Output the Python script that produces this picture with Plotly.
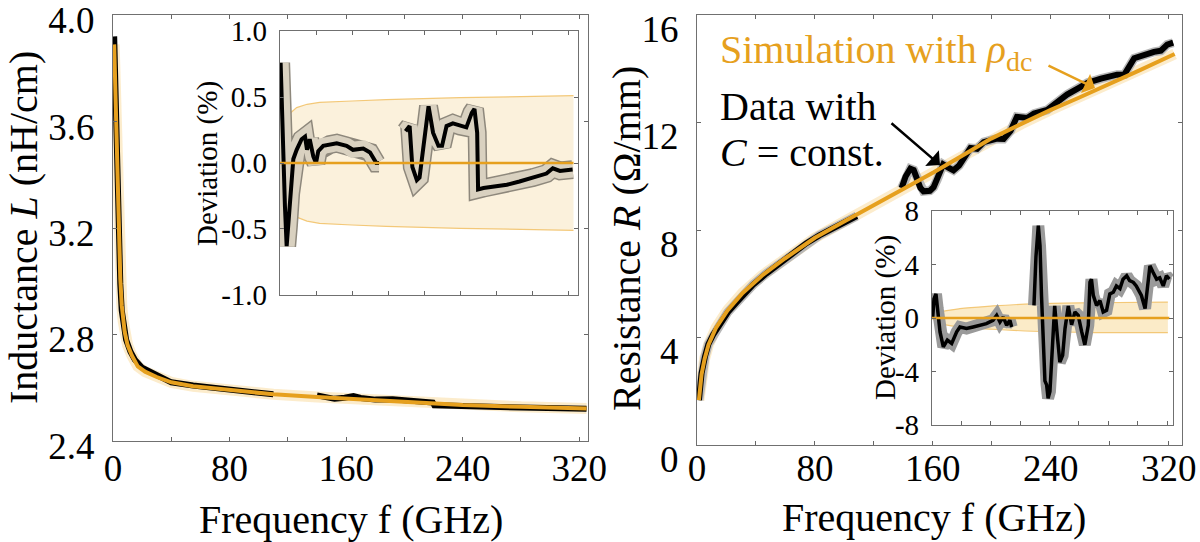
import plotly.graph_objects as go

FONT = "Liberation Serif, Times New Roman, DejaVu Serif, serif"
ORANGE = "#E6A01E"
W, H = 1200, 542

# ---------------- Left main: inductance ----------------
f_L_sim = [0.8, 1.5, 2.2, 3, 4, 5, 6, 7, 8, 10, 13, 17, 22, 30, 40, 55, 80, 110, 140, 170, 200, 240, 280, 325]
L_sim = [3.89, 3.72, 3.54, 3.36, 3.15, 3.01, 2.91, 2.85, 2.81, 2.76, 2.72, 2.68, 2.66, 2.64, 2.62, 2.605,
         2.59, 2.575, 2.565, 2.555, 2.545, 2.535, 2.528, 2.522]

f_L_meas = [0.8, 1.5, 2.2, 3, 4, 5, 6, 7.4, 9, 12, 15, 20, 25, 30, 40, 55, 75, 95, 110, None,
            140, 147, 152, 159, 165, 170, 180, 192, 207, 216, 219.5, 220.5, 240, 280, 325]
L_meas = [3.92, 3.74, 3.55, 3.36, 3.14, 2.99, 2.89, 2.83, 2.78, 2.735, 2.705, 2.675, 2.66, 2.645, 2.62,
          2.608, 2.595, 2.584, 2.575, None,
          2.571, 2.562, 2.558, 2.562, 2.568, 2.561, 2.555, 2.556, 2.550, 2.550, 2.544, 2.534, 2.530, 2.525, 2.521]

# Left inset: deviation (%)
f_Ldev = [0.7, 1.9, 3.7, 5.5, 7.4, 9.3, 11.8, 14.8, 18.5, 24, 27.8, 30, 33, 37, 40, 42.5, 48, 55.5, 63, 74,
          81, 92.5, 100, 107, 110, None,
          139.5, 144, 147, 152, 155, 159, 165, 170, 176, 180, 185, 192, 200, 207, 213, 216, 219, 220, 226,
          237, 252, 266, 281, 296, 303, 311, 325]
Ldev = [0.76, 0.48, -0.03, -0.33, -0.63, -0.48, -0.23, 0.03, 0.10, 0.18, 0.20, 0.10, 0.18, 0.05, 0.0, 0.09,
        0.13, 0.14, 0.15, 0.13, 0.10, 0.11, 0.08, 0.0, 0.0, None,
        0.24, 0.28, -0.03, -0.13, -0.11, 0.10, 0.43, 0.23, 0.13, 0.13, 0.28, 0.30, 0.28, 0.27, 0.38, 0.41,
        0.23, -0.20, -0.19, -0.18, -0.165, -0.14, -0.11, -0.08, -0.04, -0.06, -0.05]
f_Lband = [0, 3.7, 10, 18.5, 30, 44, 80, 118, 200, 326]
Lband_hi = [0.28, 0.30, 0.37, 0.42, 0.445, 0.46, 0.47, 0.48, 0.495, 0.51]
Lband_lo = [-0.28, -0.33, -0.38, -0.41, -0.44, -0.457, -0.47, -0.48, -0.495, -0.51]

# ---------------- Right main: resistance ----------------
f_R_sim = [1.3, 2, 3.1, 5.2, 7.8, 13, 20.7, 31, 44, 59.6, 80, 101, 120, 142.5, 160.6, 181, 199.5, 220,
           240, 259, 280, 300.5, 324]
R_sim = [1.67, 2.19, 2.63, 3.21, 3.73, 4.37, 5.01, 5.66, 6.30, 6.94, 7.71, 8.35, 8.93, 9.58, 10.15, 10.80,
         11.40, 11.95, 12.47, 12.92, 13.43, 13.95, 14.55]

f_R_meas = [1.3, 3.1, 5.4, 7.7, 10.9, 15.4, 20.9, 26.8, 33.6, 38, 47, 56, 65, 74, 83, 92.5, 101.6, 108.4, None,
            138.8, 141.5, 144.7, 147, 149, 151.5, 153.7, 158, 160.5, 163, 167, 170.5, 174, 177.8, 181, 185.5,
            190, 194.5, 203.6, 208, 212.7, 217, 224, 228.6, 237.6, 246.7, 251, 260, 265, 274, 278, 285, 290,
            296.6, 310, 314.7, 319, 323]
R_meas = [1.67, 2.67, 3.29, 3.75, 4.10, 4.45, 4.94, 5.30, 5.72, 5.96, 6.38, 6.75, 7.11, 7.50, 7.80, 8.07, 8.32,
          8.52, None,
          9.56, 9.99, 10.28, 10.23, 9.94, 9.57, 9.44, 9.46, 9.59, 9.88, 10.44, 10.32, 10.22, 10.40, 10.71, 11.05,
          11.02, 11.27, 11.40, 11.39, 11.69, 12.21, 12.17, 12.33, 12.47, 12.87, 13.04, 13.32, 13.48, 13.63,
          13.70, 13.78, 13.79, 14.39, 14.63, 14.67, 14.90, 14.97]

# Right inset: deviation (%)
f_Rdev = [0.9, 2.7, 5.4, 7.7, 10.9, 15.4, 20.9, 26.8, 33.6, 38, 47, 56, 65, 74, 83, 88, 92.5, 97, 101.6, 106,
          108.4, None,
          138.8, 141.5, 144.7, 147, 149, 151.5, 153.7, 156, 158, 160.5, 163, 165, 167, 170.5, 174, 177.8, 181,
          185.5, 190, 194.5, 199, 203.6, 208, 212.7, 215, 217, 219.5, 224, 228.6, 233, 237.6, 242, 246.7, 251,
          255.8, 260, 265, 269, 274, 278, 285, 290, 292, 296.6, 301, 305.7, 310, 314.7, 319, 323]
Rdev = [0.0, 1.43, 1.8, 0.7, -1.04, -2.15, -1.65, -1.9, -1.04, -0.67, -0.79, -0.67, -0.54, -0.42, -0.17, 0.2,
        -0.3, 0.07, -0.54, -0.17, -0.67, None,
        0.94, 4.6, 6.9, 5.4, 1.7, -2.8, -4.7, -5.0, -6.0, -5.5, -3.3, -0.8, 0.9, -1.3, -3.3, -2.8, -0.8, 0.9,
        -0.5, 0.45, 0.2, -1.0, -2.0, -0.54, 2.67, 2.9, 1.7, 0.94, 1.3, 0.45, 0.57, 1.8, 1.93, 2.4, 2.2, 2.9,
        3.16, 2.8, 2.67, 2.4, 1.68, 0.7, 1.68, 3.9, 3.4, 2.9, 3.0, 2.4, 3.16, 2.9]
f_Rband = [0, 5, 10.9, 38, 83, 138, 219, 321]
Rband_hi = [0.0, 0.25, 0.44, 0.7, 0.9, 1.06, 1.14, 1.19]
Rband_lo = [0.0, -0.25, -0.42, -0.67, -0.84, -0.99, -1.09, -1.09]

# tick definitions
f_ticks = [0, 40, 80, 120, 160, 200, 240, 280, 320]
f_ticktext = ["0", "", "80", "", "160", "", "240", "", "320"]
L_ticks = [2.4, 2.8, 3.2, 3.6, 4.0]
R_ticks = [0, 4, 8, 12, 16]
Ldev_ticks = [-1.0, -0.5, 0.0, 0.5, 1.0]
Ldev_text = ["-1.0", "-0.5", "0.0", "0.5", "1.0"]
Rdev_ticks = [-8, -4, 0, 4, 8]
Rdev_text = ["-8", "-4", "0", "4", "8"]


def px_x(p):
    return p / W


def px_y(p):
    return 1 - p / H


def make_axis(dom, rng, tv, tt, size, anchor, standoff=None, show=True, **kw):
    d = dict(domain=dom, range=rng, tickvals=tv, ticktext=tt, ticks="inside", ticklen=4,
             tickcolor="#666", tickwidth=1, showline=True, linecolor="#707070", linewidth=1.3,
             mirror="ticks", showgrid=False, zeroline=False, anchor=anchor, automargin=False,
             showticklabels=show,
             tickfont=dict(family=FONT, size=size, color="black"))
    if standoff is not None:
        d["ticklabelstandoff"] = standoff
    d.update(kw)
    return d


fig = go.Figure()

# --- left main
fig.add_trace(go.Scatter(x=f_L_sim, y=L_sim, mode="lines", xaxis="x", yaxis="y",
                         line=dict(color="rgba(245,200,110,0.35)", width=11), hoverinfo="skip"))
fig.add_trace(go.Scatter(x=f_L_meas, y=L_meas, mode="lines", xaxis="x", yaxis="y",
                         line=dict(color="black", width=6)))
fig.add_trace(go.Scatter(x=f_L_sim, y=L_sim, mode="lines", xaxis="x", yaxis="y",
                         line=dict(color=ORANGE, width=4)))

# --- right main
fig.add_trace(go.Scatter(x=f_R_sim, y=R_sim, mode="lines", xaxis="x2", yaxis="y2",
                         line=dict(color="rgba(245,200,110,0.35)", width=11), hoverinfo="skip"))
fig.add_trace(go.Scatter(x=f_R_meas, y=R_meas, mode="lines", xaxis="x2", yaxis="y2",
                         line=dict(color="#b8b8b8", width=9)))
fig.add_trace(go.Scatter(x=f_R_meas, y=R_meas, mode="lines", xaxis="x2", yaxis="y2",
                         line=dict(color="black", width=6)))
fig.add_trace(go.Scatter(x=f_R_sim, y=R_sim, mode="lines", xaxis="x2", yaxis="y2",
                         line=dict(color=ORANGE, width=4)))

# --- left inset
fig.add_trace(go.Scatter(x=f_Lband, y=Lband_hi, mode="lines", xaxis="x3", yaxis="y3",
                         line=dict(color="#F3C878", width=1.2)))
fig.add_trace(go.Scatter(x=f_Lband, y=Lband_lo, mode="lines", xaxis="x3", yaxis="y3", fill="tonexty",
                         fillcolor="#FBF1DC", line=dict(color="#F3C878", width=1.2)))
fig.add_trace(go.Scatter(x=f_Ldev, y=Ldev, mode="lines", xaxis="x3", yaxis="y3",
                         line=dict(color="#8e887c", width=19)))
fig.add_trace(go.Scatter(x=f_Ldev, y=Ldev, mode="lines", xaxis="x3", yaxis="y3",
                         line=dict(color="#d9d1c0", width=16)))
fig.add_trace(go.Scatter(x=f_Ldev, y=Ldev, mode="lines", xaxis="x3", yaxis="y3",
                         line=dict(color="black", width=4)))
fig.add_trace(go.Scatter(x=[0, 326], y=[0, 0], mode="lines", xaxis="x3", yaxis="y3",
                         line=dict(color=ORANGE, width=2.5)))

# --- right inset
fig.add_trace(go.Scatter(x=f_Rband, y=Rband_hi, mode="lines", xaxis="x4", yaxis="y4", line_shape="spline",
                         line=dict(color="#F3C878", width=1.2)))
fig.add_trace(go.Scatter(x=f_Rband, y=Rband_lo, mode="lines", xaxis="x4", yaxis="y4", line_shape="spline",
                         fill="tonexty", fillcolor="#FBEBC8", line=dict(color="#F3C878", width=1.2)))
fig.add_trace(go.Scatter(x=f_Rdev, y=Rdev, mode="lines", xaxis="x4", yaxis="y4",
                         line=dict(color="#9a9a9a", width=12)))
fig.add_trace(go.Scatter(x=f_Rdev, y=Rdev, mode="lines", xaxis="x4", yaxis="y4",
                         line=dict(color="black", width=3.5)))
fig.add_trace(go.Scatter(x=[0, 323], y=[0, 0], mode="lines", xaxis="x4", yaxis="y4",
                         line=dict(color=ORANGE, width=2.5)))

layout = dict(
    width=W, height=H, autosize=False, showlegend=False,
    margin=dict(l=0, r=0, t=0, b=0, pad=0),
    paper_bgcolor="white", plot_bgcolor="white",
    font=dict(family=FONT),
    xaxis=make_axis([px_x(113), px_x(588)], [0, 326], f_ticks, f_ticktext, 37, "y", standoff=-6),
    yaxis=make_axis([px_y(441), px_y(15)], [2.3995, 4.0005], L_ticks, [f"{v:.1f}" for v in L_ticks], 37, "x",
                    standoff=10, ticklabelshift=5),
    xaxis2=make_axis([px_x(697), px_x(1182)], [0, 329], f_ticks, f_ticktext, 37, "y2", standoff=-10),
    yaxis2=make_axis([px_y(445), px_y(15)], [0, 16], R_ticks, [str(v) for v in R_ticks], 37, "x2",
                     standoff=10, ticklabelshift=14),
    xaxis3=make_axis([px_x(280), px_x(578)], [0, 331], f_ticks, f_ticktext, 29, "y3", show=False),
    yaxis3=make_axis([px_y(295), px_y(31)], [-1.0005, 1.0005], Ldev_ticks, Ldev_text, 29, "x3", standoff=6),
    xaxis4=make_axis([px_x(932), px_x(1173)], [0, 328], f_ticks, f_ticktext, 29, "y4", show=False),
    yaxis4=make_axis([px_y(425), px_y(211)], [-8, 8], Rdev_ticks, Rdev_text, 29, "x4", standoff=6),
)

tf = dict(family=FONT, size=40, color="black")
anns = [
    dict(text="Inductance <i>L</i> (nH/cm)", x=px_x(23), y=px_y(228), textangle=-90, font=tf),
    dict(text="Frequency f (GHz)", x=px_x(351), y=px_y(519), font=tf),
    dict(text="Resistance <i>R</i> (Ω/mm)", x=px_x(626), y=px_y(238), textangle=-90, font=tf),
    dict(text="Frequency f (GHz)", x=px_x(934), y=px_y(517), font=tf),
    dict(text="Deviation (%)", x=px_x(207), y=px_y(163), textangle=-90,
         font=dict(family=FONT, size=29, color="black")),
    dict(text="Deviation (%)", x=px_x(885), y=px_y(318), textangle=-90,
         font=dict(family=FONT, size=29, color="black")),
    dict(text="Simulation with <i>ρ</i><sub>dc</sub>", x=px_x(718), y=px_y(52), xanchor="left",
         font=dict(family=FONT, size=40, color=ORANGE)),
    dict(text="Data with", x=px_x(718), y=px_y(106), xanchor="left", font=tf),
    dict(text="<i>C</i> = const.", x=px_x(718), y=px_y(152), xanchor="left", font=tf),
]
annotations = []
for a in anns:
    d = dict(xref="paper", yref="paper", showarrow=False, yanchor="middle")
    d.setdefault("xanchor", "center")
    d.update(a)
    annotations.append(d)

# arrows
annotations.append(dict(xref="paper", yref="paper", x=px_x(1095), y=px_y(88), ax=-48, ay=-23, text="",
                        showarrow=True, arrowhead=1, arrowwidth=2.5, arrowsize=1.4, arrowcolor=ORANGE,
                        standoff=0))
annotations.append(dict(xref="paper", yref="paper", x=px_x(940), y=px_y(165), ax=-50, ay=-43, text="",
                        showarrow=True, arrowhead=1, arrowwidth=2.5, arrowsize=1.4, arrowcolor="black",
                        standoff=0))
layout["annotations"] = annotations

fig.update_layout(**layout)
fig.write_html("out.html", config={"displayModeBar": False},
               post_script="document.body.style.margin='0px';document.body.style.overflow='hidden';")
